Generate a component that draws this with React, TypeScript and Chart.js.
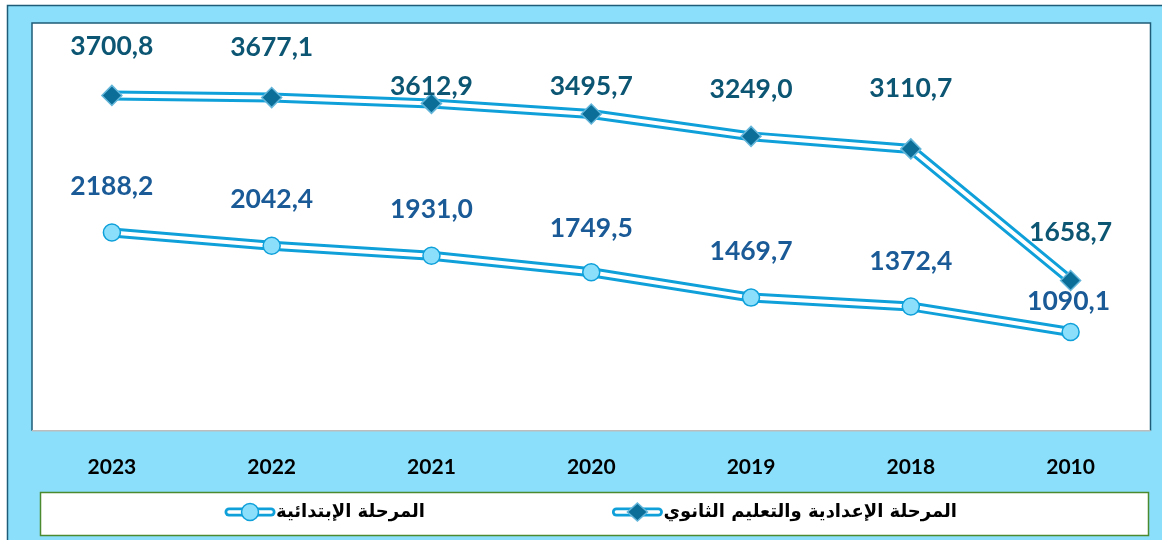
import React, { useEffect, useRef } from "react";
import { Chart, registerables } from "chart.js";

Chart.register(...registerables);

const years = ["2023", "2022", "2021", "2020", "2019", "2018", "2010"];
const secondaryValues = [3700.8, 3677.1, 3612.9, 3495.7, 3249.0, 3110.7, 1658.7];
const primaryValues = [2188.2, 2042.4, 1931.0, 1749.5, 1469.7, 1372.4, 1090.1];
const secondaryLabel = "المرحلة الإعدادية والتعليم الثانوي";
const primaryLabel = "المرحلة الإبتدائية";
const secondaryLabelOffsets = [49, 50, 17, 28, 47, 60, 48];
const primaryLabelOffsets = [46, 46, 46, 44, 46, 45, 31];

const LINE_BLUE = "#0FA0DA";
const LIGHT_BLUE = "#8BDFFB";
const DIAMOND = "#0B6E98";
const DIAMOND_BORDER = "#63B6DA";
const FRAME = "#1E5C78";
const SEC_TEXT = "#0D5673";
const PRI_TEXT = "#1A5A96";

const fmt = (v: number) => v.toFixed(1).replace(".", ",");

const backgroundPlugin = {
  id: "bgFrame",
  beforeDraw(chart: any) {
    const { ctx, width, height, chartArea } = chart;
    ctx.save();
    ctx.fillStyle = "#ffffff";
    ctx.fillRect(0, 0, width, height);
    ctx.fillStyle = LIGHT_BLUE;
    ctx.fillRect(7, 5, width - 7, height - 5);
    ctx.strokeStyle = FRAME;
    ctx.lineWidth = 1.5;
    ctx.beginPath();
    ctx.moveTo(7.5, height);
    ctx.lineTo(7.5, 5.5);
    ctx.lineTo(width, 5.5);
    ctx.stroke();
    // plot area
    const { left, top, right, bottom } = chartArea;
    ctx.fillStyle = "#ffffff";
    ctx.fillRect(left, top, right - left, bottom - top);
    ctx.strokeStyle = FRAME;
    ctx.lineWidth = 1.5;
    ctx.beginPath();
    ctx.moveTo(left, bottom);
    ctx.lineTo(left, top);
    ctx.lineTo(right, top);
    ctx.lineTo(right, bottom);
    ctx.stroke();
    ctx.strokeStyle = "#BDBDBD";
    ctx.lineWidth = 1.5;
    ctx.beginPath();
    ctx.moveTo(left, bottom);
    ctx.lineTo(right, bottom);
    ctx.stroke();
    // legend box
    ctx.fillStyle = "#ffffff";
    ctx.fillRect(40, 492, 1109, 44);
    ctx.strokeStyle = "#4B8A2E";
    ctx.lineWidth = 1.5;
    ctx.strokeRect(40.5, 492.5, 1108, 43);
    ctx.restore();
  },
};

function drawLegendItem(ctx: any, textRight: number, y: number, text: string, kind: string) {
  ctx.save();
  ctx.font = "bold 18px 'DejaVu Sans'";
  ctx.fillStyle = "#000000";
  ctx.textBaseline = "middle";
  ctx.direction = "rtl";
  ctx.textAlign = "right";
  ctx.fillText(text, textRight, y);
  const w = ctx.measureText(text).width;
  const x2 = textRight - w - 1;
  const x1 = x2 - 50;
  ctx.lineCap = "round";
  ctx.strokeStyle = LINE_BLUE;
  ctx.lineWidth = 9;
  ctx.beginPath();
  ctx.moveTo(x1 + 4, y);
  ctx.lineTo(x2 - 4, y);
  ctx.stroke();
  ctx.strokeStyle = "#ffffff";
  ctx.lineWidth = 3.5;
  ctx.beginPath();
  ctx.moveTo(x1 + 4, y);
  ctx.lineTo(x2 - 4, y);
  ctx.stroke();
  const cx = (x1 + x2) / 2;
  ctx.lineWidth = 1.5;
  if (kind === "circle") {
    ctx.fillStyle = LIGHT_BLUE;
    ctx.strokeStyle = LINE_BLUE;
    ctx.beginPath();
    ctx.arc(cx, y, 8.5, 0, Math.PI * 2);
    ctx.fill();
    ctx.stroke();
  } else {
    ctx.fillStyle = DIAMOND;
    ctx.strokeStyle = DIAMOND_BORDER;
    ctx.beginPath();
    ctx.moveTo(cx, y - 9);
    ctx.lineTo(cx + 10, y);
    ctx.lineTo(cx, y + 9);
    ctx.lineTo(cx - 10, y);
    ctx.closePath();
    ctx.fill();
    ctx.stroke();
  }
  ctx.restore();
}

const overlayPlugin = {
  id: "overlay",
  afterDatasetsDraw(chart: any) {
    const { ctx } = chart;
    ctx.save();
    ctx.font = "bold 26.5px Lato";
    ctx.textAlign = "center";
    ctx.textBaseline = "middle";
    const secMeta = chart.getDatasetMeta(0);
    secMeta.data.forEach((pt: any, i: number) => {
      ctx.fillStyle = SEC_TEXT;
      ctx.fillText(fmt(secondaryValues[i]), pt.x, pt.y - secondaryLabelOffsets[i]);
    });
    const priMeta = chart.getDatasetMeta(1);
    priMeta.data.forEach((pt: any, i: number) => {
      ctx.fillStyle = PRI_TEXT;
      ctx.fillText(fmt(primaryValues[i]), pt.x - (i === primaryValues.length - 1 ? 2 : 0), pt.y - primaryLabelOffsets[i]);
    });
    ctx.restore();
  },
  afterDraw(chart: any) {
    drawLegendItem(chart.ctx, 425, 512, primaryLabel, "circle");
    drawLegendItem(chart.ctx, 957, 512, secondaryLabel, "diamond");
  },
};

export default function App() {
  const ref = useRef<HTMLCanvasElement | null>(null);
  useEffect(() => {
    if (!ref.current) return;
    const chart = new Chart(ref.current, {
      type: "line",
      data: {
        labels: years,
        datasets: [
          {
            label: secondaryLabel,
            data: secondaryValues,
            showLine: false,
            pointStyle: "rectRot",
            pointRadius: 10,
            pointBackgroundColor: DIAMOND,
            pointBorderColor: DIAMOND_BORDER,
            pointBorderWidth: 1.5,
            order: 0,
          },
          {
            label: primaryLabel,
            data: primaryValues,
            showLine: false,
            pointStyle: "circle",
            pointRadius: 8.5,
            pointBackgroundColor: LIGHT_BLUE,
            pointBorderColor: LINE_BLUE,
            pointBorderWidth: 1.5,
            order: 0,
          },
          {
            label: "sec-inner",
            data: secondaryValues,
            borderColor: "#ffffff",
            borderWidth: 4,
            pointRadius: 0,
            order: 1,
          },
          {
            label: "pri-inner",
            data: primaryValues,
            borderColor: "#ffffff",
            borderWidth: 4,
            pointRadius: 0,
            order: 1,
          },
          {
            label: "sec-outer",
            data: secondaryValues,
            borderColor: LINE_BLUE,
            borderWidth: 10,
            pointRadius: 0,
            order: 2,
          },
          {
            label: "pri-outer",
            data: primaryValues,
            borderColor: LINE_BLUE,
            borderWidth: 10,
            pointRadius: 0,
            order: 2,
          },
        ],
      },
      options: {
        animation: false,
        responsive: true,
        maintainAspectRatio: false,
        layout: { padding: { left: 32, right: 10, top: 23, bottom: 36 } },
        plugins: {
          legend: { display: false },
          tooltip: { enabled: false },
        },
        scales: {
          x: {
            offset: true,
            grid: { display: false, drawTicks: false },
            border: { display: false },
            ticks: {
              color: "#000000",
              font: { family: "Lato", weight: "bold", size: 21 },
              padding: 24,
            },
          },
          y: { display: false, min: 0, max: 4500 },
        },
      },
      plugins: [backgroundPlugin, overlayPlugin],
    });
    return () => chart.destroy();
  }, []);
  return (
    <div style={{ position: "fixed", left: 0, top: 0, width: 1162, height: 540 }}>
      <canvas ref={ref} />
    </div>
  );
}
